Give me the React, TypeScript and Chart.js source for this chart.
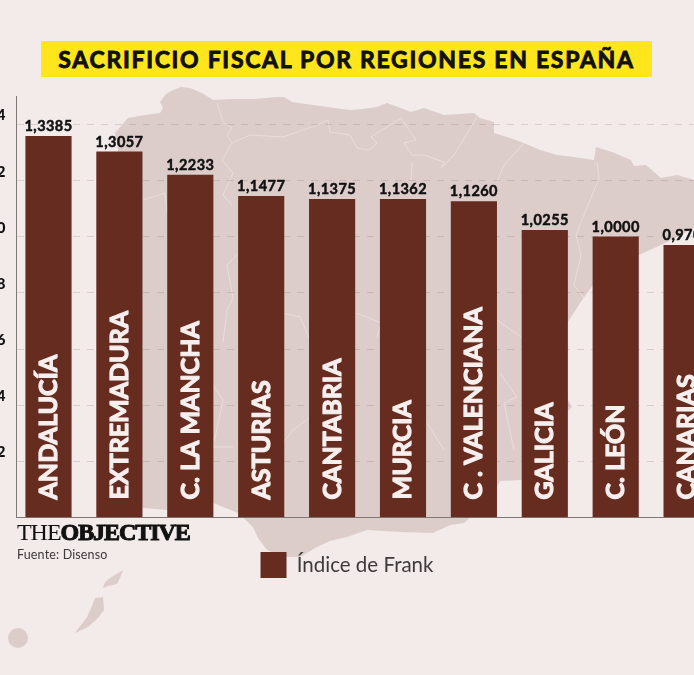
import React, { useEffect, useRef } from "react";
import { Chart, registerables } from "chart.js";

Chart.register(...registerables);

const categories = ["ANDALUCÍA", "EXTREMADURA", "C. LA MANCHA", "ASTURIAS", "CANTABRIA", "MURCIA", "C . VALENCIANA", "GALICIA", "C. LEÓN", "CANARIAS"];
const barValues = [1.3585, 1.303, 1.22, 1.144, 1.134, 1.134, 1.126, 1.0235, 1.0, 0.9695];
const valueLabels = ["1,3385", "1,3057", "1,2233", "1,1477", "1,1375", "1,1362", "1,1260", "1,0255", "1,0000", "0,9700"];
const seriesName = "Índice de Frank";
const title = "SACRIFICIO FISCAL POR REGIONES EN ESPAÑA";

const BG = "#f3eaea";
const MAP = "#ddcdca";
const BAR = "#662c20";
const FONT = "Lato, sans-serif";

const mainland = "M115 133 L121 126 L128 118 L145 115 L160 113 L163 108 L160 102 L166 94 L173 90 L181 87 L190 88 L202 93 L213 100 L232 99 L255 99 L277 97 L284 97 L292 102 L320 106 L350 110 L362 109 L377 107 L387 103 L398 107 L411 112 L424 108 L444 115 L460 114 L474 113 L480 118 L494 122 L494 133 L510 138 L524 143 L540 150 L557 155 L574 157 L594 160 L596 147 L612 152 L631 160 L634 166 L646 165 L661 178 L677 175 L694 180 L720 185 L720 215 L694 228 L665 243 L639 255 L615 270 L593 285 L580 303 L568 322 L560 345 L560 385 L568 400 L572 407 L564 415 L545 440 L530 465 L522 480 L500 481 L490 500 L464 523 L450 525 L433 533 L400 532 L367 530 L347 537 L330 541 L317 547 L300 557 L285 557 L267 550 L258 538 L253 527 L238 513 L213 503 L190 508 L167 510 L143 508 L130 470 L125 400 L124 300 L120 200 L118 150 Z";
const lanzarote = "M103 588 L105 582 L110 578 L123 570 L120 578 L117 584 L108 586 Z";
const fuerteventura = "M103 597 L104 610 L98 618 L88 627 L75 633 L87 617 L92 606 L95 598 Z";
const borders = [
  "M217 103 L223 122 L232 128 L227 135 L232 143 L222 160 L233 173 L223 195 L232 205",
  "M232 143 L250 135 L283 137 L317 125 L328 120 L330 132 L350 135 L357 148 L369 150 L377 143 L371 137 L401 118 L416 140 L404 143 L412 155 L424 155 L444 162 L441 168 L454 155 L477 117",
  "M412 162 L411 182",
  "M524 143 L504 165 L497 182",
  "M597 162 L599 178 L584 215 L576 235 L581 255 L574 285 L584 298",
  "M143 200 L165 193 L167 212",
  "M237 255 L227 265 L233 298 L227 310 L223 343",
  "M283 313 L300 317 L310 340",
  "M310 417 L293 430 L283 443",
  "M213 385 L223 400 L213 447 L233 447",
  "M357 313 L381 323 L377 337",
  "M427 423 L444 450",
  "M497 320 L521 337",
  "M500 373 L517 397 L504 403 L514 450",
];

const barText = {
  id: "barText",
  afterDatasetsDraw(chart: any) {
    const ctx = chart.ctx;
    const bars = chart.getDatasetMeta(0).data;
    bars.forEach((bar: any, i: number) => {
      ctx.save();
      ctx.fillStyle = "#111";
      ctx.strokeStyle = "#111";
      ctx.lineWidth = 0.5;
      ctx.lineJoin = "round";
      ctx.font = `700 14.5px ${FONT}`;
      (ctx as any).letterSpacing = "0.45px";
      ctx.textAlign = "center";
      ctx.textBaseline = "alphabetic";
      ctx.fillText(valueLabels[i], bar.x, bar.y - 5);
      ctx.strokeText(valueLabels[i], bar.x, bar.y - 5);
      ctx.restore();

      ctx.save();
      ctx.translate(bar.x + 8.5, bar.base - 17.5);
      ctx.rotate(-Math.PI / 2);
      ctx.fillStyle = "#f6efee";
      ctx.strokeStyle = "#f6efee";
      ctx.lineWidth = 1.2;
      ctx.lineJoin = "round";
      ctx.font = `700 25px ${FONT}`;
      (ctx as any).letterSpacing = "0px";
      ctx.textAlign = "left";
      ctx.textBaseline = "alphabetic";
      ctx.fillText(categories[i], 0, 0);
      ctx.strokeText(categories[i], 0, 0);
      ctx.restore();
    });
  },
};

export default function App() {
  const ref = useRef<HTMLCanvasElement>(null);
  useEffect(() => {
    document.body.style.margin = "0";
    const chart = new Chart(ref.current!, {
      type: "bar",
      data: {
        labels: categories,
        datasets: [
          {
            label: seriesName,
            data: barValues.map((y, x) => ({ x, y })),
            backgroundColor: BAR,
            borderWidth: 0,
            barThickness: 45.5,
          },
        ],
      },
      options: {
        responsive: false,
        animation: false,
        layout: { padding: { top: 96.5, bottom: 87, left: 0, right: 0 } },
        scales: {
          x: {
            type: "linear",
            offset: false,
            min: -0.4513,
            max: 9.1045,
            ticks: { display: false },
            grid: { display: false, drawTicks: false, offset: false },
            border: { display: true, color: "#7d7775", width: 1 },
            afterFit: (s: any) => { s.height = 0; },
          },
          y: {
            min: 0,
            max: 1.5,
            ticks: {
              stepSize: 0.2,
              includeBounds: false,
              padding: 11,
              labelOffset: -9,
              color: "#111",
              font: { family: FONT, weight: "900", size: 15 },
              callback: (v: any) => (v === 0 ? "" : Number(v).toFixed(1).replace(".", ",")),
            },
            grid: { color: "rgba(110,80,75,0.18)", drawTicks: false, tickLength: 0 },
            border: { display: true, color: "#7d7775", width: 1, dash: [7, 7] },
            afterFit: (s: any) => { s.width = 16.5; },
          },
        },
        plugins: {
          tooltip: { enabled: false },
          title: { display: false },
          legend: {
            display: true,
            position: "bottom",
            labels: {
              boxWidth: 26,
              boxHeight: 26,
              padding: 34.5,
              color: "#3d3a39",
              font: { family: FONT, size: 20.5, weight: "400" },
            },
          },
        },
      },
      plugins: [barText],
    } as any);
    return () => chart.destroy();
  }, []);

  return (
    <div style={{ position: "absolute", left: 0, top: 0, width: 694, height: 675, overflow: "hidden", background: BG }}>
      <svg width={694} height={675} style={{ position: "absolute", left: 0, top: 0 }}>
        <path d={mainland} fill={MAP} />
        <path d={lanzarote} fill={MAP} />
        <path d={fuerteventura} fill={MAP} />
        <circle cx={18} cy={638} r={10} fill={MAP} />
        {borders.map((d, i) => (
          <path key={i} d={d} fill="none" stroke="#e9dddb" strokeWidth={1} />
        ))}
      </svg>
      <canvas ref={ref} width={694} height={675} style={{ position: "absolute", left: 0, top: 0, display: "block" }} />
      <div
        style={{
          position: "absolute", left: 41, top: 41, width: 611, height: 36, background: "#ffe61c",
          color: "#111", font: `700 23px/36px ${FONT}`, textAlign: "center", whiteSpace: "nowrap",
          letterSpacing: "1.7px", WebkitTextStroke: "0.9px #111",
        }}
      >
        {title}
      </div>
      <div style={{ position: "absolute", left: 17, top: 518, font: "24px/28px 'Liberation Serif', serif", color: "#111", letterSpacing: "-1.05px", whiteSpace: "nowrap" }}>
        THE<b style={{ WebkitTextStroke: "1px #111" }}>OBJECTIVE</b>
      </div>
      <div style={{ position: "absolute", left: 17, top: 547, font: `12.5px/16px ${FONT}`, color: "#3d3a39", letterSpacing: "0.15px", whiteSpace: "nowrap" }}>
        Fuente: Disenso
      </div>
    </div>
  );
}
